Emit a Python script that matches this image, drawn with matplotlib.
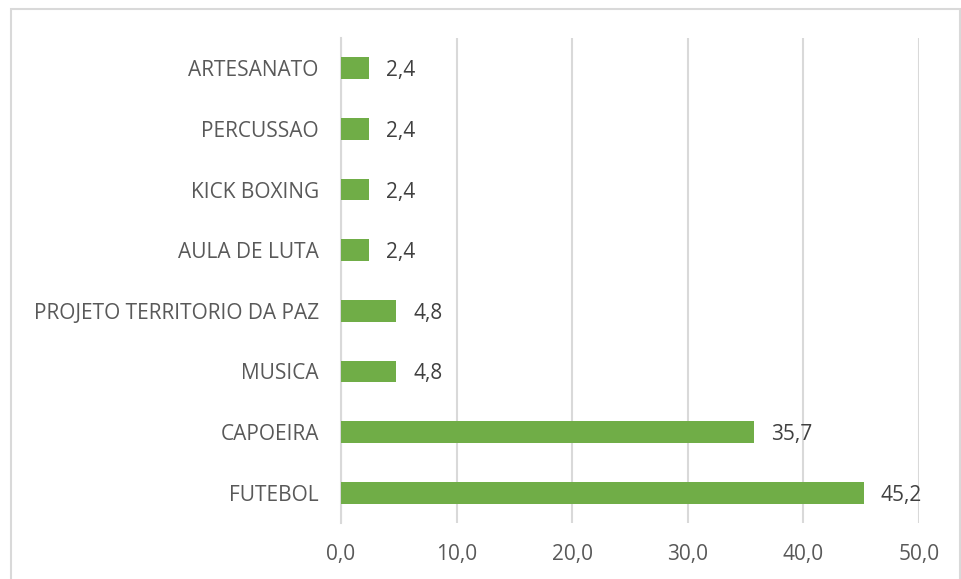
import matplotlib.pyplot as plt
from matplotlib.patches import Rectangle

plt.rcParams['font.family'] = ['Open Sans', 'DejaVu Sans']

categorias = ['FUTEBOL', 'CAPOEIRA', 'MUSICA', 'PROJETO TERRITORIO DA PAZ',
              'AULA DE LUTA', 'KICK BOXING', 'PERCUSSAO', 'ARTESANATO']
valores = [45.2, 35.7, 4.8, 4.8, 2.4, 2.4, 2.4, 2.4]
ticks = [0, 10, 20, 30, 40, 50]

cor_texto = '#595959'
cor_grade = '#D9D9D9'

fig = plt.figure(figsize=(9.62, 5.79), dpi=100)
fig.patches.append(Rectangle((11/962, -0.1), 949/962, 1.1 - 9/579, transform=fig.transFigure,
                             fill=False, edgecolor=cor_grade, linewidth=1.5))
ax = fig.add_axes([341/962, 1 - 523/579, 578/962, 485/579])

y = list(range(len(categorias)))
ax.barh(y, valores, height=0.36, color='#70AD47', zorder=3)
for yi, v in zip(y, valores):
    ax.text(v + 1.5, yi, f'{v:.1f}'.replace('.', ','), va='center_baseline', ha='left',
            fontsize=15, color='#404040')

ax.set_xlim(0, 50)
ax.set_ylim(-0.5, len(categorias) - 0.5)
ax.set_xticks(ticks)
ax.set_xticklabels([f'{t:.1f}'.replace('.', ',') for t in ticks], fontsize=15, color=cor_texto)
ax.set_yticks(y)
ax.set_yticklabels(categorias, fontsize=15, color=cor_texto, va='center_baseline')
ax.tick_params(length=0, axis='y', pad=16)
ax.tick_params(length=0, axis='x', pad=15)
ax.grid(axis='x', color=cor_grade, linewidth=1.5, zorder=0)
for s in ['top', 'right', 'bottom']:
    ax.spines[s].set_visible(False)
ax.spines['left'].set_color(cor_grade)
ax.spines['left'].set_linewidth(1.5)

fig.savefig('out.png', dpi=100)
